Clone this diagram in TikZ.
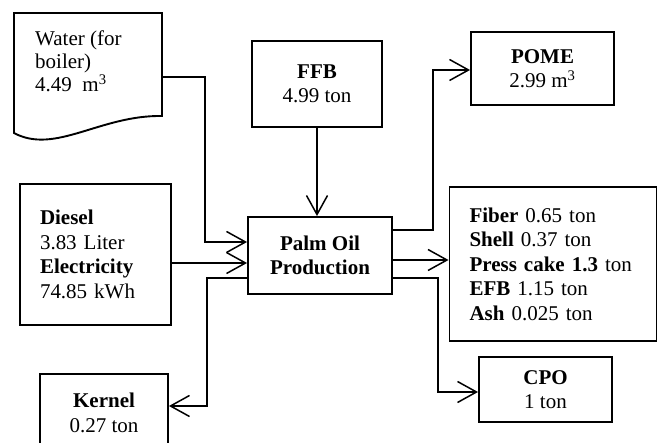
\documentclass[tikz,border=0pt]{standalone}
\usepackage{fontspec}
\setmainfont{Liberation Serif}
\usetikzlibrary{arrows.meta}
\begin{document}
\begin{tikzpicture}[x=1pt,y=-1pt,>={Straight Barb[length=19pt,width=21pt]}]

      \useasboundingbox (0,0) rectangle (657,443);

      % water for the boiler: document shape
      \draw[line width=1.9pt] (14,133) -- (14,13) -- (162,13) -- (162,116)
        .. controls (100,115) and (55,155) .. (14,133) -- cycle;
      \node[anchor=north west,align=left,inner sep=0pt,
        font=\fontsize{21}{23}\selectfont] (water) at (35,31)
        {Water (for\\boiler)\\4.49~~m\textsuperscript{3}};
      \coordinate (waterout) at (162,77);

      \begin{scope}[every node/.style={draw,line width=1.9pt,align=center,inner sep=0pt,
          font=\fontsize{21}{24.5}\selectfont}]
        \node[minimum width=130pt,minimum height=86pt] (ffb)  at (317,84)    {\textbf{FFB}\\4.99 ton};
        \node[minimum width=144pt,minimum height=77pt] (main) at (320,255.5) {\textbf{Palm Oil}\\\textbf{Production}};
        \node[minimum width=143pt,minimum height=73pt] (pome) at (542.5,68.5) {\textbf{POME}\\2.99 m\textsuperscript{3}};
        \node[text width=111pt,inner xsep=20pt,minimum height=141pt,align=left] (diesel) at (95.5,254.5)
          {\textbf{Diesel}\\3.83 Liter\\\textbf{Electricity}\\74.85 kWh};
        \node[text width=167pt,inner xsep=20pt,minimum height=154pt,align=left] (outputs) at (553,264)
          {\textbf{Fiber} 0.65 ton\\\textbf{Shell} 0.37 ton\\\textbf{Press cake 1.3} ton\\\textbf{EFB} 1.15 ton\\\textbf{Ash} 0.025 ton};
        \node[minimum width=133pt,minimum height=65pt] (cpo) at (545.5,389.5) {\textbf{CPO}\\1 ton};
        \node[minimum width=128pt,minimum height=78pt,anchor=north] (kernel) at (104,373) {\textbf{Kernel}\\0.27 ton};
      \end{scope}

      \begin{scope}[every path/.style={line width=1.5pt}]
        % inputs
        \draw[->] (waterout) -- ++(43,0) |- (main.west |- 0,242);
        \draw[->] (diesel.east |- 0,263) -- (main.west |- 0,263);
        \draw[->] (ffb.south |- 0,127) -- (main.north -| ffb.south);
        % outputs
        \draw[->] (main.east |- 0,230) -- ++(40,0) |- (pome.west |- 0,70);
        \draw[->] (main.east |- 0,260) -- (outputs.west |- 0,260);
        \draw[->] (main.east |- 0,278) -- ++(45,0) |- (cpo.west |- 0,392);
        \draw[->] (main.west |- 0,278) -- ++(-40,0) |- (kernel.east |- 0,406);
      \end{scope}

    \end{tikzpicture}
\end{document}
